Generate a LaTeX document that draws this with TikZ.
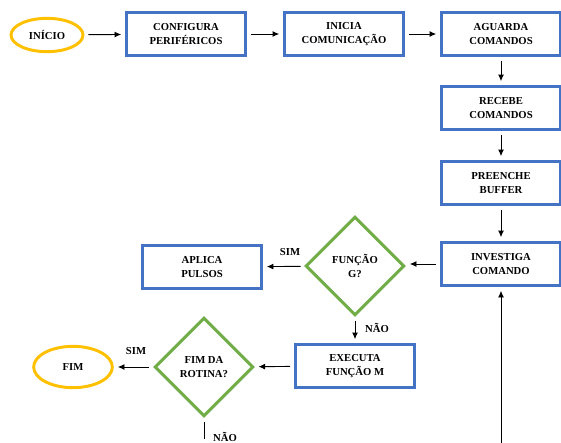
\documentclass[tikz,border=0pt]{standalone}
\usepackage{fontspec}
\setmainfont{Liberation Serif}
\usetikzlibrary{arrows.meta}
\usetikzlibrary{shapes.geometric}

\definecolor{azul}{HTML}{4472C4}
\definecolor{laranja}{HTML}{FFC000}
\definecolor{verde}{HTML}{70AD47}

\begin{document}
\begin{tikzpicture}[x=0.75pt,y=-0.75pt]
    \tikzstyle{texto}=[font=\fontsize{8}{10.5}\selectfont\bfseries,align=center,inner sep=0pt]
    \tikzstyle{bloco}=[texto,rectangle,draw=azul,line width=2.2pt,fill=white,minimum width=89pt,minimum height=32pt]
    \tikzstyle{terminal}=[texto,ellipse,draw=laranja,line width=2.2pt,fill=white]
    \tikzstyle{decisao}=[texto,diamond,draw=verde,line width=2.2pt,fill=white,minimum width=74pt,minimum height=74pt]
    \tikzstyle{edge}=[draw=black,line width=0.7pt,-{Latex[length=5pt,width=4.5pt]},shorten <=3pt,shorten >=3pt]
    \tikzstyle{rotulo}=[font=\fontsize{8}{9}\selectfont\bfseries,inner sep=1pt]

    \useasboundingbox (0,0) rectangle (561,443);

    \def\yA{34}
    \def\xD{501}

    \node[terminal,minimum width=54pt,minimum height=25pt] (inicio) at (47,35) {INÍCIO};
    \node[bloco] (config)   at (186,\yA) {CONFIGURA\\PERIFÉRICOS};
    \node[bloco] (inicia)   at (344,\yA) {INICIA\\COMUNICAÇÃO};
    \node[bloco] (aguarda)  at (\xD,\yA) {AGUARDA\\COMANDOS};
    \node[bloco] (recebe)   at (\xD,108) {RECEBE\\COMANDOS};
    \node[bloco] (preenche) at (\xD,183) {PREENCHE\\BUFFER};
    \node[bloco] (investiga) at (\xD,264) {INVESTIGA\\COMANDO};
    \node[decisao] (funcG)  at (355,266) {FUNÇÃO\\G?};
    \node[bloco] (aplica)   at (202,267) {APLICA\\PULSOS};
    \node[bloco] (executa)  at (355,366) {EXECUTA\\FUNÇÃO M};
    \node[decisao] (fimrot) at (204,367) {FIM DA\\ROTINA?};
    \node[terminal,minimum width=59pt,minimum height=31pt] (fim) at (73,367) {FIM};

    \coordinate (saida)  at (204,443);
    \coordinate (volta)  at (\xD,443);

    \path[edge] (inicio) -- (config);
    \path[edge] (config) -- (inicia);
    \path[edge] (inicia) -- (aguarda);
    \path[edge] (aguarda) -- (recebe);
    \path[edge] (recebe) -- (preenche);
    \path[edge] (preenche) -- (investiga);
    \path[edge] (investiga) -- (investiga -| funcG.east);
    \path[edge] (funcG) -- (aplica);
    \path[edge] (funcG) -- (executa);
    \path[edge] (executa) -- (fimrot);
    \path[edge] (fimrot) -- (fim);
    \path[edge,-] (fimrot) -- (saida);
    \path[edge,shorten <=0pt] (volta) -- (investiga);

    \node[rotulo] at (290,252) {SIM};
    \node[rotulo] at (377,328) {NÃO};
    \node[rotulo] at (136,351) {SIM};
    \node[rotulo] at (225,437) {NÃO};
\end{tikzpicture}
\end{document}
